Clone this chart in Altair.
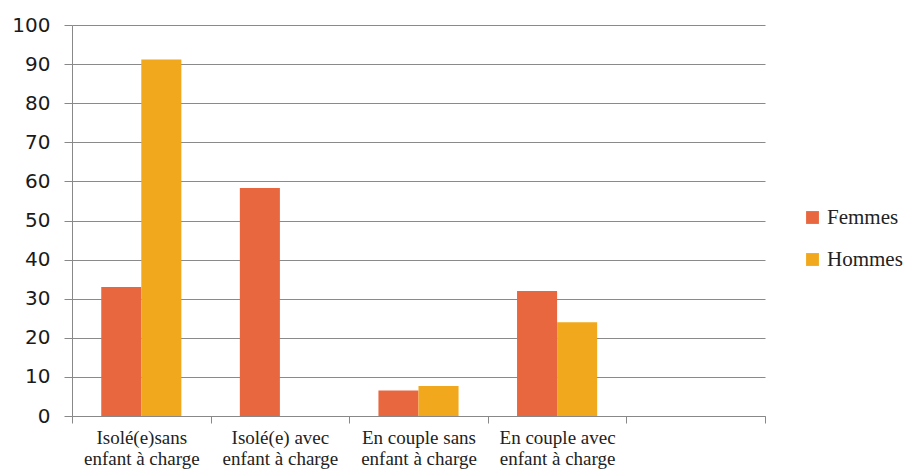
import altair as alt
import pandas as pd

categories = ["Isolé(e)sans|enfant à charge", "Isolé(e) avec|enfant à charge",
              "En couple sans|enfant à charge", "En couple avec|enfant à charge", " "]
series = ["Femmes", "Hommes"]
femmes = [33, 58.3, 6.5, 32, None]
hommes = [91.2, None, 7.7, 24, None]
colors = ["#E9673F", "#F1A81C"]

rows = []
for c, f, h in zip(categories, femmes, hommes):
    if f is not None:
        rows.append({"cat": c, "serie": "Femmes", "val": f})
    if h is not None:
        rows.append({"cat": c, "serie": "Hommes", "val": h})
df = pd.DataFrame(rows)

chart = alt.Chart(df).mark_bar().encode(
    x=alt.X("cat:N", sort=categories,
            scale=alt.Scale(domain=categories, paddingInner=0, paddingOuter=0),
            axis=alt.Axis(title=None, labelAngle=0, tickBand="extent",
                          labelExpr="isValid(datum.value) ? split(datum.value, '|') : ''",
                          labelFont="Liberation Serif", labelFontSize=19,
                          labelLineHeight=21, labelColor="#222",
                          labelPadding=5, tickSize=7, tickColor="#888",
                          domainColor="#888", grid=False)),
    xOffset=alt.XOffset("serie:N", scale=alt.Scale(domain=series, paddingInner=0, paddingOuter=0.73)),
    y=alt.Y("val:Q", scale=alt.Scale(domain=[0, 100], nice=False),
            axis=alt.Axis(title=None, values=list(range(0, 101, 10)),
                          labelFont="DejaVu Sans", labelFontSize=20, labelColor="#1a1a1a",
                          labelPadding=14, tickSize=8, tickColor="#888",
                          domainColor="#888", gridColor="#8a8a8a", gridWidth=1)),
    color=alt.Color("serie:N", scale=alt.Scale(domain=series, range=colors),
                    legend=alt.Legend(title=None, orient="none", legendX=730, legendY=182,
                                      symbolType="square", symbolSize=165,
                                      symbolStrokeWidth=0, symbolOpacity=1,
                                      labelFont="Liberation Serif", labelFontSize=21,
                                      labelColor="#222", rowPadding=20, labelOffset=4)),
).properties(
    width=693, height=391,
    autosize=alt.AutoSizeParams(type="none"),
    padding={"left": 64, "top": 17, "right": 140, "bottom": 54},
).configure_view(stroke=None)

chart.save("out.html", embed_options={"renderer": "svg", "actions": False})
